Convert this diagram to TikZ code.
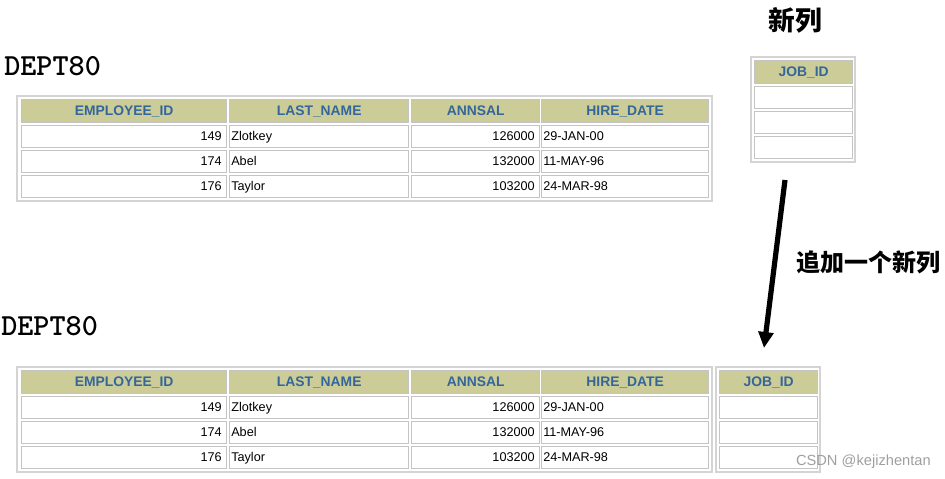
\documentclass[tikz,border=0pt]{standalone}
\usepackage{fontspec}
\setmainfont{Liberation Sans}
\newfontfamily\cjk{Noto Sans CJK SC}
\usetikzlibrary{arrows.meta}
\definecolor{hdbg}{HTML}{CCCC99}
\definecolor{hdtx}{HTML}{336699}
\definecolor{cellln}{HTML}{C4C4C4}
\definecolor{frmln}{HTML}{D4D4D4}
\tikzset{
  hd/.style={draw=cellln,line width=1pt,fill=hdbg,minimum height=17.25pt,inner sep=0pt,
    anchor=north west,text=hdtx,font=\bfseries\fontsize{10.4}{12}\selectfont},
  cl/.style={draw=cellln,line width=1pt,fill=white,minimum height=16.5pt,inner sep=0pt,anchor=north west},
  tr/.style={anchor=east,inner sep=0pt,xshift=-4pt,text height=7pt,text depth=2pt,font=\fontsize{9.5}{11}\selectfont},
  tl/.style={anchor=west,inner sep=0pt,xshift=1.5pt,text height=7pt,text depth=2pt,font=\fontsize{9.5}{11}\selectfont},
  frm/.style={draw=frmln,line width=1.2pt},
  ttl/.style={anchor=west,inner sep=0pt,font=\ttfamily\bfseries\fontsize{23}{23}\selectfont}
}
\begin{document}
\begin{tikzpicture}[x=0.75pt,y=-0.75pt]
\useasboundingbox (0,0) rectangle (945,478);
\node[ttl] (dept1) at (4,66) {DEPT80};
\node[ttl] (dept2) at (1,326) {DEPT80};
\node[font=\cjk\bfseries\fontsize{20}{20}\selectfont] (newcol) at (795,20) {新列};
% the two tables
\foreach \t/\sh in {a/0,b/-203.25}{
\begin{scope}[yshift=\sh pt]
\draw[frm] (17,96) rectangle (712,201);
\node[hd,minimum width=153.75pt] (\t-e0) at (21,99) {EMPLOYEE\_ID};
\node[hd,minimum width=134.25pt] (\t-n0) at (229,99) {LAST\_NAME};
\node[hd,minimum width=96pt] (\t-s0) at (411,99) {ANNSAL};
\node[hd,minimum width=125.25pt] (\t-d0) at (541,99) {HIRE\_DATE};
\foreach \i/\y/\eid/\lname/\sal/\hdate in {1/125/149/Zlotkey/126000/29-JAN-00,
    2/150/174/Abel/132000/11-MAY-96,3/175/176/Taylor/103200/24-MAR-98}{
  \node[cl,minimum width=153.75pt] (\t-e\i) at (21,\y) {};
  \node[cl,minimum width=134.25pt] (\t-n\i) at (229,\y) {};
  \node[cl,minimum width=96pt] (\t-s\i) at (411,\y) {};
  \node[cl,minimum width=125.25pt] (\t-d\i) at (541,\y) {};
  \node[tr] at (\t-e\i.east) {\eid};
  \node[tl] at (\t-n\i.west) {\lname};
  \node[tr] at (\t-s\i.east) {\sal};
  \node[tl] at (\t-d\i.west) {\hdate};
}
\end{scope}
}
% the JOB_ID columns
\foreach \t/\xx/\sh in {c/565.5/29.25,d/539.25/-203.25}{
\begin{scope}[xshift=\xx pt,yshift=\sh pt]
\draw[frm] (-3,96) rectangle (101,201);
\node[hd,minimum width=73.5pt] (\t-j0) at (0,99) {JOB\_ID};
\foreach \i/\y in {1/125,2/150,3/175}
  \node[cl,minimum width=73.5pt] (\t-j\i) at (0,\y) {};
\end{scope}
}
\coordinate (p1) at (785,180);
\coordinate (p2) at (764,348);
\draw[-{Triangle[width=11pt,length=12pt]},line width=3.9pt] (p1) -- (p2);
\node[anchor=west,font=\cjk\bfseries\fontsize{18}{18}\selectfont] (addcol) at (792,262) {追加一个新列};
\node[anchor=base east,inner sep=0pt,text=gray!75,font=\fontsize{11}{11}\selectfont] (wm) at (931,465) {CSDN @kejizhentan};
\end{tikzpicture}
\end{document}
